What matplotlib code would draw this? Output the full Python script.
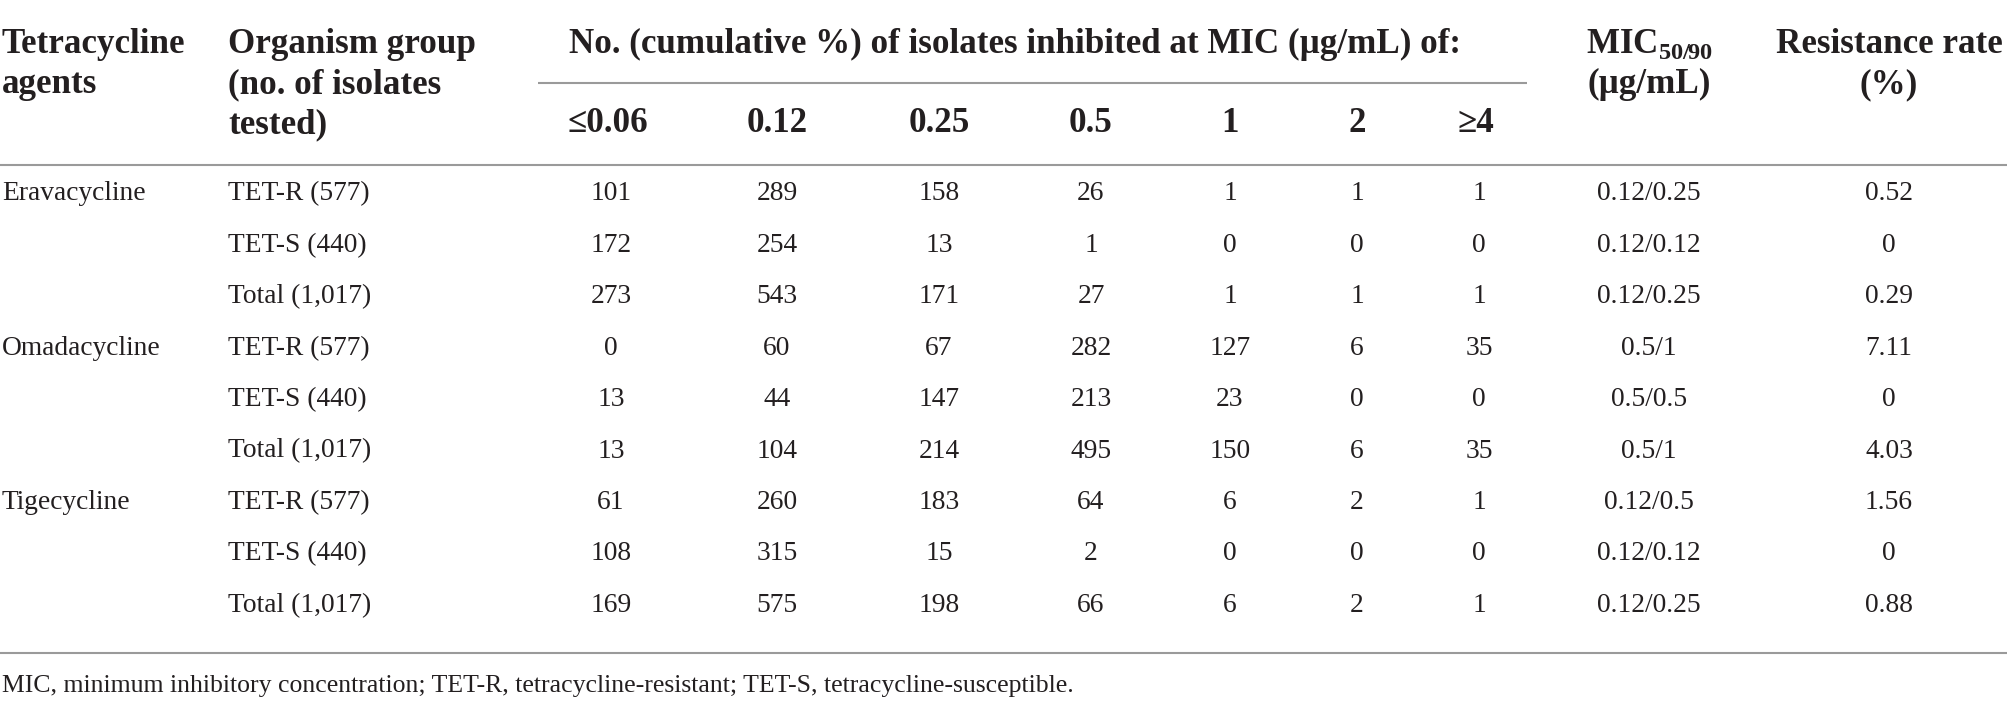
import matplotlib
matplotlib.use('Agg')
import matplotlib.pyplot as plt

plt.rcParams['font.family'] = ['Liberation Serif', 'DejaVu Serif']
plt.rcParams['mathtext.fontset'] = 'custom'
plt.rcParams['mathtext.rm'] = 'Liberation Serif:bold'

# table content
agents = ['Eravacycline', 'Omadacycline', 'Tigecycline']
groups = ['TET-R (577)', 'TET-S (440)', 'Total (1,017)']
mic_labels = ['≤0.06', '0.12', '0.25', '0.5', '1', '2', '≥4']

eravacycline = [[101, 289, 158, 26, 1, 1, 1],
                [172, 254, 13, 1, 0, 0, 0],
                [273, 543, 171, 27, 1, 1, 1]]
omadacycline = [[0, 60, 67, 282, 127, 6, 35],
                [13, 44, 147, 213, 23, 0, 0],
                [13, 104, 214, 495, 150, 6, 35]]
tigecycline = [[61, 260, 183, 64, 6, 2, 1],
               [108, 315, 15, 2, 0, 0, 0],
               [169, 575, 198, 66, 6, 2, 1]]
counts = [eravacycline, omadacycline, tigecycline]

mic50_90 = [['0.12/0.25', '0.12/0.12', '0.12/0.25'],
            ['0.5/1', '0.5/0.5', '0.5/1'],
            ['0.12/0.5', '0.12/0.12', '0.12/0.25']]
resistance = [['0.52', '0', '0.29'],
              ['7.11', '0', '4.03'],
              ['1.56', '0', '0.88']]

footnote = ('MIC, minimum inhibitory concentration; TET-R, tetracycline-resistant; '
            'TET-S, tetracycline-susceptible.')

# layout (pixel units)
W, H = 2008, 705
txt = '#231f20'
rule = '#9a9a9a'
col_agent = 2
col_group = 228
col_mic = [611, 777, 939, 1091, 1230, 1357, 1479]
col_m5090 = 1649
col_res = 1889
hdr_base = [53, 93, 133]
row0 = 200.5
row_step = 51.4
fs_body = 19.8
fs_head = 25.2

fig = plt.figure(figsize=(W / 100, H / 100), dpi=100)
ax = fig.add_axes([0, 0, 1, 1])
ax.set_xlim(0, W)
ax.set_ylim(H, 0)
ax.axis('off')

hb = dict(fontsize=fs_head, fontweight='bold', color=txt, va='baseline')
ax.text(col_agent, hdr_base[0], 'Tetracycline', ha='left', **hb)
ax.text(col_agent, hdr_base[1], 'agents', ha='left', **hb)
for i, s in enumerate(['Organism group', '(no. of isolates', 'tested)']):
    ax.text(col_group, hdr_base[i], s, ha='left', **hb)
ax.text(1015, hdr_base[0], 'No. (cumulative %) of isolates inhibited at MIC (µg/mL) of:',
        ha='center', **hb)
for x, s in zip(col_mic, mic_labels):
    ax.text(x - 3 if s[0] in '≤≥' else x, 132, s, ha='center', **hb)
ax.text(col_m5090, hdr_base[0], r'MIC$_{\mathrm{50/90}}$', ha='center', **hb)
ax.text(col_m5090, hdr_base[1], '(µg/mL)', ha='center', **hb)
ax.text(col_res, hdr_base[0], 'Resistance rate', ha='center', **hb)
ax.text(col_res, hdr_base[1], '(%)', ha='center', **hb)

# rules
ax.plot([538, 1527], [83, 83], color=rule, lw=1.5, solid_capstyle='butt')
ax.plot([0, W], [165, 165], color=rule, lw=1.5, solid_capstyle='butt')
ax.plot([0, W], [653, 653], color=rule, lw=1.5, solid_capstyle='butt')

bb = dict(fontsize=fs_body, color=txt, va='baseline')
r = 0
for a, agent in enumerate(agents):
    for g, group in enumerate(groups):
        y = row0 + r * row_step
        if g == 0:
            ax.text(col_agent, y, agent, ha='left', **bb)
        ax.text(col_group, y, group, ha='left', **bb)
        for x, v in zip(col_mic, counts[a][g]):
            ax.text(x, y, str(v), ha='center', **bb)
        ax.text(col_m5090, y, mic50_90[a][g], ha='center', **bb)
        ax.text(col_res, y, resistance[a][g], ha='center', **bb)
        r += 1

ax.text(col_agent, 692, footnote, ha='left', fontsize=18.5, color=txt, va='baseline')

fig.savefig('out.png', dpi=100)
